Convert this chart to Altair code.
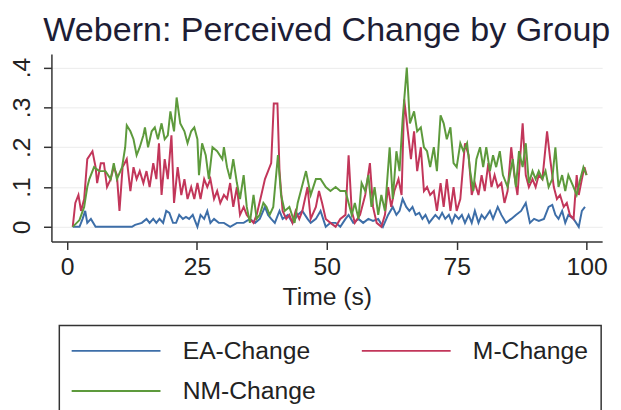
import altair as alt
import pandas as pd

# ---- data ----
series_names = ["EA-Change", "M-Change", "NM-Change"]
series_colors = ["#3d6ea8", "#c2365a", "#5d9a3c"]

ea_t = [1.1, 2.4, 3.0, 3.5, 3.9, 4.6, 5.5, 6.8, 8.0, 9.5, 11.0, 12.5, 13.1, 14.4, 15.3, 15.9,
        16.6, 17.2, 17.8, 18.5, 19.1, 19.7, 20.4, 21.0, 21.6, 22.3, 22.9, 23.5, 24.2, 24.8,
        25.1, 25.7, 26.4, 27.0, 27.6, 28.3, 29.2, 30.2, 31.4, 32.7, 34.0, 35.2, 36.2, 37.1,
        38.1, 38.7, 39.3, 40.0, 40.9, 41.5, 42.5, 43.4, 44.4, 45.3, 46.3, 46.9, 47.9, 48.8,
        49.8, 50.7, 51.7, 52.6, 53.6, 54.2, 55.1, 56.1, 57.0, 58.0, 58.9, 59.9, 60.8, 61.8,
        62.7, 63.4, 64.0, 64.6, 65.3, 65.9, 66.5, 67.1, 67.8, 68.4, 69.0, 69.7, 70.3, 70.9,
        71.6, 72.2, 72.8, 73.5, 74.1, 74.7, 75.4, 76.0, 76.6, 77.3, 77.9, 78.5, 79.2, 79.8,
        80.4, 81.4, 82.0, 82.9, 83.6, 84.5, 85.5, 86.4, 87.4, 88.3, 89.1, 89.9, 90.8, 91.8,
        92.7, 93.4, 94.0, 94.6, 95.3, 95.9, 96.5, 97.5, 98.5, 99.1, 99.7]
ea_v = [0.0, 0.0, 0.02, 0.04, 0.01, 0.02, 0.0, 0.0, 0.0, 0.0, 0.0, 0.0, 0.005, 0.01, 0.02, 0.01,
        0.02, 0.01, 0.02, 0.01, 0.04, 0.035, 0.01, 0.01, 0.03, 0.02, 0.025, 0.02, 0.03, 0.01,
        0.0, 0.03, 0.02, 0.04, 0.01, 0.02, 0.01, 0.01, 0.0, 0.01, 0.01, 0.02, 0.01, 0.02,
        0.05, 0.03, 0.02, 0.01, 0.04, 0.02, 0.03, 0.01, 0.03, 0.04, 0.02, 0.01, 0.02, 0.04,
        0.0, 0.01, 0.01, 0.0, 0.02, 0.03, 0.01, 0.02, 0.01, 0.02, 0.015, 0.02, 0.0, 0.03,
        0.05, 0.03, 0.04, 0.07, 0.05, 0.04, 0.05, 0.03, 0.035, 0.02, 0.03, 0.01, 0.02, 0.03,
        0.02, 0.035, 0.02, 0.03, 0.01, 0.03, 0.02, 0.03, 0.01, 0.03, 0.01, 0.04, 0.01, 0.03,
        0.02, 0.04, 0.02, 0.05, 0.03, 0.01, 0.02, 0.03, 0.04, 0.06, 0.01, 0.02, 0.015, 0.02,
        0.05, 0.055, 0.03, 0.02, 0.04, 0.01, 0.03, 0.02, 0.0, 0.04, 0.05]

m_t = [1.1, 1.6, 2.2, 2.7, 3.3, 3.9, 4.9, 5.5, 5.8, 6.5, 7.1, 7.7, 8.4, 9.0, 9.6, 10.1, 10.7,
       11.5, 12.2, 12.8, 13.4, 14.0, 14.7, 15.3, 15.9, 16.6, 17.2, 17.7, 18.2, 18.8, 19.4,
       20.1, 20.6, 21.3, 22.0, 22.6, 23.2, 23.9, 24.5, 25.1, 25.7, 26.4, 27.0, 27.6, 28.3,
       28.9, 29.5, 30.2, 30.8, 31.4, 32.0, 32.7, 33.3, 34.0, 34.6, 35.2, 35.9, 36.5, 37.4,
       38.1, 38.7, 39.3, 39.8, 40.5, 40.9, 41.5, 42.2, 42.8, 43.4, 44.0, 44.7, 45.3, 46.3,
       46.9, 47.9, 48.5, 49.1, 49.8, 50.7, 51.7, 52.6, 53.6, 54.2, 54.8, 55.4, 56.4, 57.4,
       58.3, 58.9, 59.6, 60.5, 61.2, 61.8, 62.4, 63.0, 63.8, 64.4, 64.9, 65.6, 66.2, 66.8,
       67.4, 68.1, 68.7, 69.3, 69.9, 70.6, 71.2, 71.9, 72.5, 73.1, 73.8, 74.4, 75.0, 75.7,
       76.6, 77.3, 77.9, 78.5, 79.2, 79.8, 80.4, 81.1, 81.7, 82.3, 82.9, 83.6, 84.2, 84.8,
       85.5, 86.1, 86.7, 87.7, 88.3, 88.9, 89.6, 90.2, 90.8, 91.5, 92.4, 93.0, 93.7, 94.3,
       94.9, 95.6, 96.2, 96.8, 97.5, 98.1, 98.5, 99.1, 99.6, 100.0]
m_v = [0.0, 0.06, 0.08, 0.04, 0.07, 0.17, 0.19, 0.15, 0.11, 0.16, 0.16, 0.10, 0.12, 0.15, 0.13, 0.04, 0.15,
       0.17, 0.09, 0.15, 0.12, 0.14, 0.11, 0.14, 0.10, 0.16, 0.12, 0.21, 0.08, 0.17, 0.12,
       0.23, 0.06, 0.15, 0.08, 0.12, 0.07, 0.10, 0.07, 0.11, 0.07, 0.12, 0.10, 0.12, 0.07,
       0.09, 0.06, 0.08, 0.07, 0.11, 0.05, 0.10, 0.03, 0.05, 0.03, 0.02, 0.01, 0.03, 0.08,
       0.12, 0.14, 0.16, 0.31, 0.31, 0.14, 0.04, 0.02, 0.03, 0.01, 0.04, 0.02, 0.04, 0.10,
       0.02, 0.05, 0.09, 0.06, 0.02, 0.01, 0.0, 0.02, 0.03, 0.18, 0.04, 0.01, 0.03, 0.08,
       0.16, 0.05, 0.01, 0.0, 0.03, 0.10, 0.05, 0.09, 0.12, 0.08, 0.32, 0.24, 0.17, 0.24,
       0.14, 0.20, 0.09, 0.10, 0.08, 0.09, 0.04, 0.11, 0.05, 0.12, 0.04, 0.10, 0.04, 0.07,
       0.21, 0.18, 0.08, 0.11, 0.08, 0.13, 0.09, 0.16, 0.10, 0.13, 0.10, 0.11, 0.06, 0.09,
       0.20, 0.13, 0.08, 0.26, 0.13, 0.10, 0.12, 0.10, 0.13, 0.12, 0.24, 0.17, 0.10, 0.07,
       0.08, 0.05, 0.06, 0.03, 0.02, 0.13, 0.08, 0.12, 0.15, 0.13]

nm_t = [1.1, 2.4, 3.3, 3.9, 4.3, 5.2, 6.2, 7.4, 8.4, 9.0, 9.6, 10.6, 11.2, 11.5, 12.2, 12.8,
        13.4, 14.0, 14.7, 15.0, 15.6, 16.3, 16.9, 17.5, 18.2, 18.8, 19.4, 19.9, 20.6, 21.1,
        21.8, 22.6, 23.2, 23.9, 24.5, 25.1, 25.4, 26.0, 26.7, 27.3, 28.0, 28.9, 29.9, 30.2,
        30.8, 31.4, 32.0, 32.7, 33.3, 34.0, 34.6, 35.2, 35.9, 36.5, 37.1, 37.8, 38.4, 39.0,
        39.7, 40.6, 41.2, 41.9, 42.8, 43.8, 44.4, 45.0, 46.0, 46.9, 47.9, 48.8, 49.8, 50.7,
        51.7, 52.6, 53.6, 54.2, 54.8, 55.4, 56.1, 56.7, 57.4, 58.0, 58.6, 59.2, 59.9, 60.5,
        61.2, 62.1, 62.7, 63.4, 64.0, 64.6, 65.4, 66.0, 66.8, 67.4, 68.1, 68.7, 69.3, 69.9,
        70.6, 71.2, 71.9, 72.5, 73.1, 73.8, 74.4, 75.0, 75.7, 76.3, 77.0, 77.6, 78.2, 78.8,
        79.5, 80.1, 80.7, 81.4, 82.0, 82.6, 83.3, 83.9, 84.8, 85.8, 86.4, 87.0, 87.7, 88.3,
        88.9, 89.6, 90.2, 90.8, 91.5, 92.1, 92.7, 93.4, 94.0, 94.6, 95.3, 95.9, 96.5, 97.5,
        98.1, 98.8, 99.4, 100.0]
nm_v = [0.0, 0.017, 0.05, 0.10, 0.12, 0.15, 0.14, 0.14, 0.12, 0.16, 0.12, 0.15, 0.20, 0.255, 0.24, 0.22,
        0.18, 0.20, 0.23, 0.25, 0.20, 0.24, 0.25, 0.22, 0.26, 0.22, 0.23, 0.29, 0.24, 0.325,
        0.26, 0.24, 0.21, 0.24, 0.25, 0.22, 0.13, 0.21, 0.18, 0.12, 0.20, 0.19, 0.17, 0.20,
        0.15, 0.12, 0.17, 0.11, 0.07, 0.13, 0.05, 0.01, 0.08, 0.02, 0.03, 0.06, 0.05, 0.03,
        0.05, 0.18, 0.08, 0.04, 0.05, 0.01, 0.06, 0.09, 0.14, 0.08, 0.12, 0.12, 0.10, 0.09,
        0.10, 0.09, 0.09, 0.06, 0.03, 0.06, 0.02, 0.11, 0.09, 0.13, 0.05, 0.10, 0.03, 0.08,
        0.04, 0.20, 0.07, 0.19, 0.14, 0.27, 0.40, 0.26, 0.29, 0.24, 0.25, 0.20, 0.19, 0.15,
        0.20, 0.14, 0.28, 0.26, 0.22, 0.25, 0.16, 0.15, 0.21, 0.19, 0.21, 0.14, 0.09, 0.17,
        0.20, 0.15, 0.20, 0.14, 0.18, 0.15, 0.19, 0.13, 0.10, 0.17, 0.10, 0.19, 0.15, 0.21,
        0.11, 0.14, 0.12, 0.14, 0.12, 0.14, 0.10, 0.12, 0.20, 0.10, 0.13, 0.09, 0.13, 0.10,
        0.08, 0.12, 0.15, 0.13]

x_ticks = [0, 25, 50, 75, 100]
y_ticks = [0, 0.1, 0.2, 0.3, 0.4]

frames = []
for name, ts, vs in zip(series_names, [ea_t, m_t, nm_t], [ea_v, m_v, nm_v]):
    assert len(ts) == len(vs), name
    frames.append(pd.DataFrame({"t": ts, "v": vs, "series": name}))
df = pd.concat(frames, ignore_index=True)

FONT = "Liberation Sans"

chart = alt.Chart(df).mark_line(strokeWidth=2).encode(
    x=alt.X("t:Q",
            scale=alt.Scale(domain=[-3, 103], nice=False, zero=False),
            axis=alt.Axis(values=x_ticks, title="Time (s)", grid=False, tickSize=8,
                          labelFontSize=25, titleFontSize=25, titleFontWeight="normal",
                          labelPadding=5, titlePadding=6, labelFlush=False,
                          domainColor="#333333", tickColor="#333333", domainWidth=1.5,
                          tickWidth=1.5, labelColor="#222222", titleColor="#222222")),
    y=alt.Y("v:Q",
            scale=alt.Scale(domain=[-0.037, 0.434], nice=False, zero=False),
            axis=alt.Axis(values=y_ticks, title=None, grid=True, gridColor="#ebebeb",
                          tickSize=8, labelAngle=270, labelFontSize=25, labelPadding=9,
                          labelExpr="datum.value == 0 ? '0' : replace(format(datum.value, '.1f'), '0.', '.')",
                          domainColor="#333333", tickColor="#333333", domainWidth=1.5,
                          tickWidth=1.5, labelColor="#222222", labelFlush=False)),
    color=alt.Color("series:N",
                    scale=alt.Scale(domain=series_names, range=series_colors),
                    legend=alt.Legend(title=None, orient="none", legendX=8, legendY=275,
                                      direction="horizontal",
                                      columns=2, symbolType="M-2.6,0H15.4", symbolSize=100,
                                      symbolStrokeWidth=2, labelFontSize=25, labelOffset=87,
                                      columnPadding=42, rowPadding=15, padding=13,
                                      strokeColor="#333333", fillColor="white",
                                      labelColor="#222222", labelLimit=300)),
).properties(
    width=558,
    height=190,
    title=alt.Title("Webern: Perceived Change by Group", fontSize=34.5, font=FONT,
                    fontWeight="normal", color="#1d1d35", anchor="middle", offset=6),
    autosize=alt.AutoSizeParams(type="none"),
    padding={"left": 44, "top": 44, "right": 11, "bottom": 170},
).configure(
    font=FONT,
).configure_view(
    stroke=None,
).configure_legend(
    strokeWidth=1.5,
)

chart.save("out.html", embed_options={"renderer": "svg", "actions": False})
